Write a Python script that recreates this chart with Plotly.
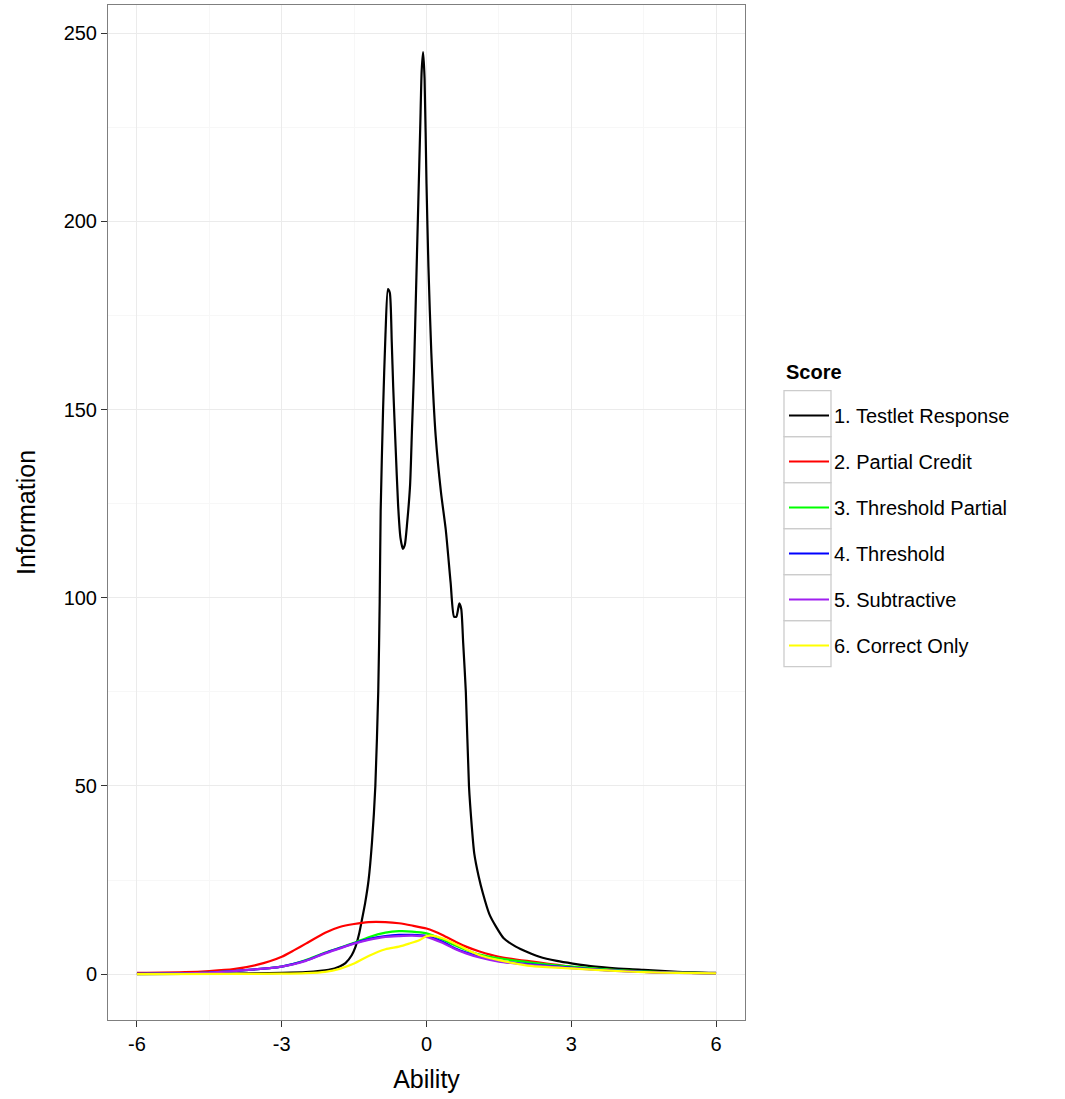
import plotly.graph_objects as go

# ---- data ----
series_names = ["1. Testlet Response", "2. Partial Credit", "3. Threshold Partial",
                "4. Threshold", "5. Subtractive", "6. Correct Only"]
series_colors = ["#000000", "#ff0000", "#00ff00", "#0000ff", "#a020f0", "#ffff00"]
legend_title = "Score"

testlet_x = [-6, -4, -3, -2.5, -2.03, -1.8, -1.68, -1.55, -1.47, -1.40, -1.34, -1.27, -1.2,
             -1.13, -1.06, -1.0, -0.97, -0.95, -0.90, -0.85, -0.80, -0.76, -0.72, -0.69,
             -0.64, -0.59, -0.54, -0.49, -0.45, -0.40, -0.34, -0.30, -0.26, -0.21, -0.17,
             -0.13, -0.10, -0.07, -0.04, 0.0, 0.04, 0.10, 0.19, 0.30, 0.40, 0.50, 0.57,
             0.62, 0.68, 0.72, 0.76, 0.815, 0.88, 0.94, 0.99, 1.08, 1.17, 1.30, 1.44, 1.6,
             1.85, 2.1, 2.34, 2.7, 3.03, 3.5, 4.2, 4.5, 5.2, 6.0]
testlet_y = [0, 0.1, 0.3, 0.5, 1.1, 2.0, 2.9, 5, 7.3, 10.5, 14.3, 19, 25,
             35, 50, 75, 99, 123, 150, 170, 182, 181, 168, 156,
             140, 125, 116, 113, 114, 120, 130, 145, 160, 185, 205,
             225, 240, 245, 238, 210, 188, 165, 143, 128, 118, 104, 95,
             95, 98.5, 97, 88, 75, 50, 39, 32, 26, 21.4, 16, 12.6, 9.5,
             7.3, 5.8, 4.6, 3.5, 2.8, 2.0, 1.3, 1.1, 0.6, 0.3]

smooth_x = [-6, -5, -4.5, -4, -3.5, -3.25, -3, -2.75, -2.5, -2.1, -1.8, -1.5, -1.2, -0.85,
            -0.57, -0.3, 0, 0.33, 0.6, 0.82, 1.1, 1.5, 2.2, 3, 3.8, 4.5, 5.2, 6]
partial_credit_y = [0.3, 0.5, 0.8, 1.3, 2.5, 3.4, 4.6, 6.3, 8.1, 11.0, 12.5, 13.3, 13.8, 13.8,
                    13.5, 12.9, 12.1, 10.4, 8.6, 7.3, 6.0, 4.6, 3.3, 1.95, 1.1, 0.6, 0.35, 0.2]
threshold_partial_y = [0.05, 0.2, 0.4, 0.8, 1.3, 1.6, 2.0, 2.7, 3.7, 5.7, 7.0, 8.3, 9.8, 11.0,
                       11.4, 11.3, 10.8, 9.2, 7.6, 6.4, 5.2, 4.2, 3.0, 2.0, 1.2, 0.7, 0.4, 0.2]
threshold_y = [0.05, 0.2, 0.4, 0.8, 1.3, 1.6, 2.0, 2.7, 3.6, 5.6, 6.9, 8.2, 9.3, 10.1,
               10.4, 10.4, 10.1, 8.6, 6.8, 5.7, 4.6, 3.5, 2.5, 1.7, 1.0, 0.6, 0.35, 0.2]
subtractive_y = [0.05, 0.2, 0.4, 0.8, 1.3, 1.6, 2.0, 2.6, 3.5, 5.5, 6.8, 8.1, 9.1, 9.9,
                 10.1, 10.2, 9.9, 8.3, 6.6, 5.5, 4.4, 3.3, 2.4, 1.6, 0.9, 0.55, 0.3, 0.2]
correct_x = [-6, -4, -3, -2.5, -2.1, -1.8, -1.5, -1.2, -0.85, -0.57, -0.36, -0.15, 0, 0.1,
             0.33, 0.6, 0.82, 1.1, 1.5, 2.2, 3, 3.8, 4.5, 5.2, 6]
correct_y = [0, 0.05, 0.1, 0.25, 0.6, 1.4, 2.8, 4.8, 6.6, 7.3, 8.1, 9.0, 10.1, 10.2,
             9.5, 8.0, 6.6, 5.0, 3.7, 2.1, 1.5, 0.9, 0.5, 0.3, 0.2]

x_tickvals = [-6, -3, 0, 3, 6]
x_ticktext = ["-6", "-3", "0", "3", "6"]
y_tickvals = [0, 50, 100, 150, 200, 250]

xs = [testlet_x, smooth_x, smooth_x, smooth_x, smooth_x, correct_x]
ys = [testlet_y, partial_credit_y, threshold_partial_y, threshold_y, subtractive_y, correct_y]

FONT = "Liberation Sans, Arial, sans-serif"

# plot-area geometry in pixels (for placing legend decorations)
W, H = 1065, 1099
ML, MR, MT, MB = 108, 320, 5, 79
PW, PH = W - ML - MR, H - MT - MB


def px_x(p):
    return (p - ML) / PW


def px_y(p):
    return (H - MB - p) / PH


fig = go.Figure()
for i, (name, col, x, y) in enumerate(zip(series_names, series_colors, xs, ys)):
    fig.add_trace(go.Scatter(
        x=x, y=y, mode="lines", name=name, legendgroup=name,
        line=dict(color=col, width=2.2, shape="spline", smoothing=0.6),
    ))

# legend key boxes (ggplot-style)
box_top, box_h = 390.7, 46.0
shapes = []
for i in range(len(series_names)):
    shapes.append(dict(
        type="rect", xref="paper", yref="paper",
        x0=px_x(784), x1=px_x(831),
        y0=px_y(box_top + i * box_h), y1=px_y(box_top + (i + 1) * box_h),
        line=dict(color="#cccccc", width=1.3), fillcolor="rgba(0,0,0,0)", layer="below",
    ))

fig.update_layout(
    width=W, height=H,
    margin=dict(l=ML, r=MR, t=MT, b=MB),
    paper_bgcolor="white", plot_bgcolor="white",
    font=dict(family=FONT, size=20, color="#000000"),
    showlegend=True,
    legend=dict(
        x=px_x(784), xanchor="left", y=px_y(396), yanchor="top",
        font=dict(size=20), tracegroupgap=17, itemwidth=40,
        bgcolor="rgba(0,0,0,0)",
    ),
    shapes=shapes,
    annotations=[dict(
        text="<b>" + legend_title + "</b>", xref="paper", yref="paper",
        x=px_x(784), y=px_y(372), xanchor="left", yanchor="middle",
        showarrow=False, font=dict(size=20, family=FONT),
    )],
    xaxis=dict(
        range=[-6.6, 6.6], tickvals=x_tickvals, ticktext=x_ticktext,
        showgrid=True, gridcolor="#ebebeb", gridwidth=1,
        minor=dict(dtick=1.5, tick0=0, showgrid=True, gridcolor="#f7f7f7", gridwidth=1),
        ticks="outside", ticklen=6, tickcolor="#333333", tickwidth=1,
        tickfont=dict(size=20, color="#000000"),
        showline=True, linecolor="#7f7f7f", linewidth=1, mirror=True,
        zeroline=False,
        title=dict(text="Ability", font=dict(size=25), standoff=16),
    ),
    yaxis=dict(
        range=[-12.2, 257.5], tickvals=y_tickvals,
        showgrid=True, gridcolor="#ebebeb", gridwidth=1,
        minor=dict(dtick=25, tick0=0, showgrid=True, gridcolor="#f7f7f7", gridwidth=1),
        ticks="outside", ticklen=6, tickcolor="#333333", tickwidth=1,
        tickfont=dict(size=20, color="#000000"),
        showline=True, linecolor="#7f7f7f", linewidth=1, mirror=True,
        zeroline=False,
        title=dict(text="Information", font=dict(size=25), standoff=20),
    ),
)

fig.write_html("out.html")
